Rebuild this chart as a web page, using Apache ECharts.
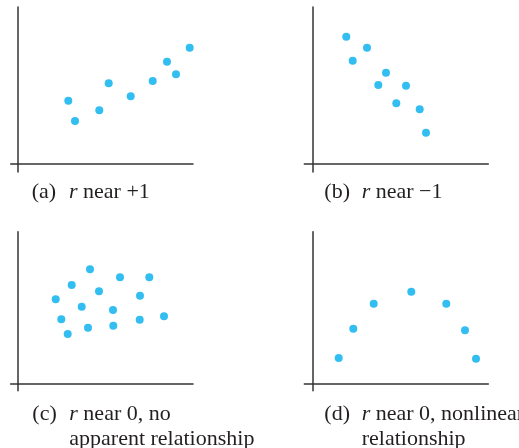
<!DOCTYPE html>
<html>
<head>
<meta charset="utf-8">
<script src="https://cdn.jsdelivr.net/npm/echarts@6/dist/echarts.min.js"></script>
<style>
  html, body { margin: 0; padding: 0; background: #fff; }
  #chart { width: 519px; height: 448px; }
</style>
</head>
<body>
<div id="chart"></div>
<script>
var pointsA = [[5.06, 6.33], [5.73, 4.3], [8.16, 5.37], [9.1, 8.07], [11.3, 6.77],
	[13.5, 8.3], [14.93, 10.23], [15.83, 8.97], [17.2, 11.63]];
var pointsB = [[3.4, 12.73], [4.04, 10.33], [5.47, 11.63], [6.6, 7.9], [7.37, 9.13],
	[8.4, 6.07], [9.37, 7.83], [10.74, 5.47], [11.37, 3.13]];
var pointsC = [[7.23, 11.4], [5.4, 9.83], [3.8, 8.4], [8.13, 9.2], [6.4, 7.66],
	[4.36, 6.4], [5.0, 4.93], [7.03, 5.56], [9.53, 7.33], [9.56, 5.76],
	[10.23, 10.6], [13.16, 10.6], [12.23, 8.76], [12.2, 6.36], [14.63, 6.7]];
var pointsD = [[2.64, 2.53], [4.1, 5.46], [6.14, 7.96], [9.9, 9.16], [13.4, 7.96],
	[15.27, 5.3], [16.37, 2.46]];

var tags = ['(a)', '(b)', '(c)', '(d)'];
var captions = [
	'{i|r} near +1',
	'{i|r} near \u22121',
	'{i|r} near 0, no\napparent relationship',
	'{i|r} near 0, nonlinear\nrelationship'
];

var dotColor = '#00aeef';
var inkColor = '#231f20';
var serif = '"Liberation Serif", "DejaVu Serif", serif';

// grid boxes: left, top, width, height, x range, y range
var panels = [
	{ left: 10.7, top: 7, width: 182.3, height: 165, xmin: -0.7, xmax: 17.53, ymin: -0.8, ymax: 15.7 },
	{ left: 304.3, top: 7, width: 184, height: 165, xmin: -0.8, xmax: 17.6, ymin: -0.8, ymax: 15.7 },
	{ left: 10.7, top: 231.7, width: 182.3, height: 159, xmin: -0.7, xmax: 17.53, ymin: -0.74, ymax: 15.16 },
	{ left: 304.3, top: 231.7, width: 184, height: 159, xmin: -0.8, xmax: 17.6, ymin: -0.74, ymax: 15.16 }
];
var allPoints = [pointsA, pointsB, pointsC, pointsD];

var myChart = echarts.init(document.getElementById('chart'));

var grids = [], xAxes = [], yAxes = [], serie = [], texts = [];
var axisLine = { onZero: true, lineStyle: { color: '#333', width: 1.5 } };

for (var i = 0; i < panels.length; i++) {
	var p = panels[i];
	grids.push({ left: p.left, top: p.top, width: p.width, height: p.height });
	xAxes.push({
		type: 'value', gridIndex: i, min: p.xmin, max: p.xmax,
		axisLine: axisLine, axisTick: { show: false },
		axisLabel: { show: false }, splitLine: { show: false }
	});
	yAxes.push({
		type: 'value', gridIndex: i, min: p.ymin, max: p.ymax,
		axisLine: axisLine, axisTick: { show: false },
		axisLabel: { show: false }, splitLine: { show: false }
	});
	serie.push({
		type: 'scatter', xAxisIndex: i, yAxisIndex: i,
		symbolSize: 8,
		itemStyle: { color: dotColor },
		data: allPoints[i]
	});
}

// captions under each panel
var tagX = [31.7, 324.3, 32.3, 324.3];
var capX = [69, 361.7, 69.3, 361.7];
var capY = [192, 192, 414.5, 414.5];
for (var k = 0; k < 4; k++) {
	texts.push({
		type: 'text', left: tagX[k], top: capY[k] - 12.5,
		style: { text: tags[k], font: '22px ' + serif, fill: inkColor, lineHeight: 25 }
	});
	texts.push({
		type: 'text', left: capX[k], top: capY[k] - 12.5,
		style: {
			text: captions[k], font: '22px ' + serif, fill: inkColor, lineHeight: 25,
			rich: { i: { fontStyle: 'italic', fontFamily: serif, fontSize: 22, fill: inkColor, lineHeight: 25 } }
		}
	});
}

myChart.setOption({
	animation: false,
	grid: grids,
	xAxis: xAxes,
	yAxis: yAxes,
	series: serie,
	graphic: texts
});
</script>
</body>
</html>
